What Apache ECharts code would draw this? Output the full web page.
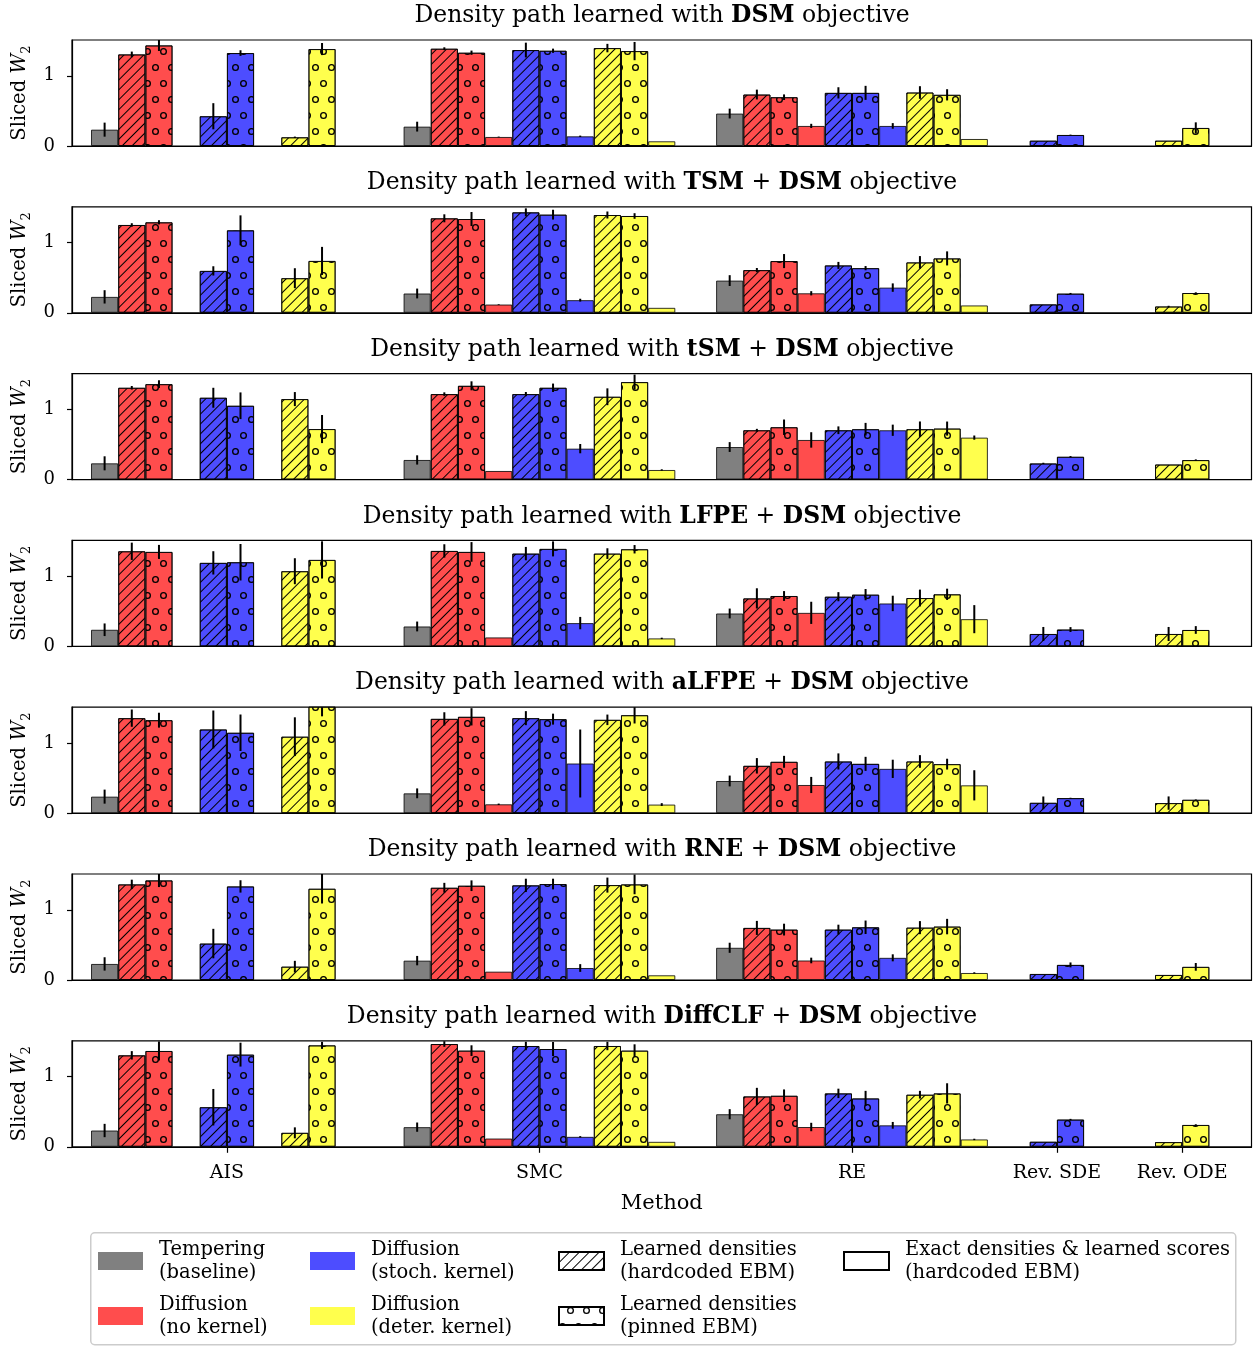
<!DOCTYPE html>
<html><head><meta charset="utf-8">
<script src="https://cdn.jsdelivr.net/npm/echarts@6/dist/echarts.min.js"></script>
<style>html,body{margin:0;padding:0;background:#fff}#c{width:1253px;height:1346px}</style>
</head><body><div id="c"></div>
<script>
// ---------------- data ----------------
const methods = ['AIS', 'SMC', 'RE', 'Rev. SDE', 'Rev. ODE'];
const objectives = [['DSM'], ['TSM', 'DSM'], ['tSM', 'DSM'], ['LFPE', 'DSM'], ['aLFPE', 'DSM'], ['RNE', 'DSM'], ['DiffCLF', 'DSM']];
const colorNames = ['Tempering\n(baseline)', 'Diffusion\n(no kernel)', 'Diffusion\n(stoch. kernel)', 'Diffusion\n(deter. kernel)'];
const patternNames = ['Learned densities\n(hardcoded EBM)', 'Learned densities\n(pinned EBM)', 'Exact densities & learned scores\n(hardcoded EBM)'];
const yTicks = [0, 1];
// slot order in each method group:
// [Tempering, noK-hard, noK-pinned, noK-exact, stoch-hard, stoch-pinned, stoch-exact, deter-hard, deter-pinned, deter-exact]
const N = null;
const meanDSM = [
  [0.233, 1.305, 1.433, N, 0.424, 1.324, N, 0.124, 1.381, N],
  [0.276, 1.386, 1.329, 0.129, 1.367, 1.357, 0.138, 1.395, 1.352, 0.067],
  [0.462, 0.733, 0.695, 0.286, 0.757, 0.757, 0.286, 0.762, 0.729, 0.100],
  [N, N, N, N, 0.076, 0.157, N, N, N, N],
  [N, N, N, N, N, N, N, 0.076, 0.257, N]];
const errDSM = [
  [0.10, 0.04, 0.08, N, 0.186, 0.04, N, 0.01, 0.086, N],
  [0.07, 0.02, 0.03, 0.005, 0.105, 0.03, 0.01, 0.06, 0.13, 0],
  [0.07, 0.07, 0.04, 0.03, 0.08, 0.10, 0.04, 0.09, 0.08, 0],
  [N, N, N, N, 0, 0.005, N, N, N, N],
  [N, N, N, N, N, N, N, 0, 0.08, N]];
const meanTSM = [
  [0.227, 1.251, 1.289, N, 0.597, 1.175, N, 0.493, 0.739, N],
  [0.275, 1.346, 1.336, 0.118, 1.431, 1.398, 0.180, 1.393, 1.379, 0.071],
  [0.459, 0.608, 0.737, 0.278, 0.675, 0.636, 0.359, 0.718, 0.775, 0.105],
  [N, N, N, N, 0.120, 0.273, N, N, N, N],
  [N, N, N, N, N, N, N, 0.090, 0.282, N]];
const errTSM = [
  [0.095, 0.025, 0.03, N, 0.066, 0.213, N, 0.142, 0.20, N],
  [0.07, 0.057, 0.10, 0.005, 0.057, 0.07, 0.02, 0.05, 0.04, 0],
  [0.077, 0.03, 0.10, 0.03, 0.05, 0.03, 0.06, 0.09, 0.10, 0],
  [N, N, N, N, 0, 0.01, N, N, N, N],
  [N, N, N, N, N, N, N, 0.01, 0.01, N]];
const meantSM = [
  [0.232, 1.308, 1.360, N, 1.166, 1.052, N, 1.147, 0.720, N],
  [0.280, 1.218, 1.336, 0.123, 1.218, 1.308, 0.441, 1.180, 1.389, 0.137],
  [0.464, 0.703, 0.746, 0.565, 0.703, 0.718, 0.703, 0.718, 0.727, 0.598],
  [N, N, N, N, 0.230, 0.325, N, N, N, N],
  [N, N, N, N, N, N, N, 0.215, 0.278, N]];
const errtSM = [
  [0.10, 0.025, 0.055, N, 0.142, 0.19, N, 0.10, 0.20, N],
  [0.066, 0.025, 0.064, 0, 0.03, 0.06, 0.066, 0.12, 0.107, 0.01],
  [0.07, 0.02, 0.11, 0.11, 0.055, 0.09, 0.08, 0.11, 0.10, 0.03],
  [N, N, N, N, 0.01, 0.01, N, N, N, N],
  [N, N, N, N, N, N, N, 0, 0.01, N]];
const meanLFPE = [
  [0.237, 1.355, 1.346, N, 1.190, 1.199, N, 1.071, 1.232, N],
  [0.284, 1.360, 1.346, 0.128, 1.322, 1.389, 0.332, 1.322, 1.384, 0.114],
  [0.469, 0.684, 0.718, 0.478, 0.708, 0.737, 0.612, 0.689, 0.742, 0.388],
  [N, N, N, N, 0.177, 0.240, N, N, N, N],
  [N, N, N, N, N, N, N, 0.177, 0.234, N]];
const errLFPE = [
  [0.09, 0.123, 0.10, N, 0.166, 0.26, N, 0.185, 0.265, N],
  [0.07, 0.095, 0.14, 0, 0.095, 0.107, 0.088, 0.076, 0.06, 0.01],
  [0.07, 0.144, 0.07, 0.158, 0.065, 0.08, 0.11, 0.12, 0.08, 0.20],
  [N, N, N, N, 0.10, 0.035, N, N, N, N],
  [N, N, N, N, N, N, N, 0.10, 0.055, N]];
const meanaLFPE = [
  [0.236, 1.354, 1.325, N, 1.193, 1.146, N, 1.090, 1.580, N],
  [0.283, 1.344, 1.373, 0.127, 1.354, 1.340, 0.708, 1.330, 1.396, 0.123],
  [0.459, 0.675, 0.732, 0.402, 0.737, 0.703, 0.632, 0.737, 0.699, 0.397],
  [N, N, N, N, 0.148, 0.215, N, N, N, N],
  [N, N, N, N, N, N, N, 0.144, 0.191, N]];
const erraLFPE = [
  [0.10, 0.123, 0.106, N, 0.27, 0.26, N, 0.276, 0.20, N],
  [0.07, 0.094, 0.123, 0.01, 0.10, 0.078, 0.484, 0.075, 0.118, 0.02],
  [0.077, 0.11, 0.085, 0.115, 0.115, 0.10, 0.13, 0.09, 0.077, 0.215],
  [N, N, N, N, 0.09, 0.005, N, N, N, N],
  [N, N, N, N, N, N, N, 0.095, 0.005, N]];
const meanRNE = [
  [0.229, 1.362, 1.419, N, 0.519, 1.333, N, 0.190, 1.300, N],
  [0.276, 1.314, 1.343, 0.119, 1.348, 1.367, 0.171, 1.352, 1.362, 0.067],
  [0.459, 0.742, 0.718, 0.278, 0.718, 0.751, 0.316, 0.746, 0.761, 0.100],
  [N, N, N, N, 0.086, 0.215, N, N, N, N],
  [N, N, N, N, N, N, N, 0.072, 0.187, N]];
const errRNE = [
  [0.095, 0.067, 0.095, N, 0.21, 0.088, N, 0.083, 0.21, N],
  [0.067, 0.07, 0.076, 0, 0.095, 0.076, 0.055, 0.107, 0.14, 0],
  [0.072, 0.10, 0.084, 0.04, 0.07, 0.096, 0.05, 0.093, 0.11, 0.01],
  [N, N, N, N, 0, 0.035, N, N, N, N],
  [N, N, N, N, N, N, N, 0, 0.055, N]];
const meanDiffCLF = [
  [0.232, 1.303, 1.365, N, 0.564, 1.313, N, 0.199, 1.445, N],
  [0.280, 1.464, 1.370, 0.118, 1.436, 1.393, 0.142, 1.436, 1.370, 0.071],
  [0.464, 0.718, 0.727, 0.282, 0.761, 0.689, 0.306, 0.742, 0.761, 0.105],
  [N, N, N, N, 0.072, 0.388, N, N, N, N],
  [N, N, N, N, N, N, N, 0.067, 0.311, N]];
const errDiffCLF = [
  [0.095, 0.06, 0.135, N, 0.26, 0.17, N, 0.078, 0.05, N],
  [0.066, 0.04, 0.076, 0, 0.06, 0.10, 0.01, 0.06, 0.09, 0],
  [0.072, 0.122, 0.09, 0.06, 0.067, 0.108, 0.048, 0.055, 0.144, 0.01],
  [N, N, N, N, 0, 0.01, N, N, N, N],
  [N, N, N, N, N, N, N, 0, 0.01, N]];
const allMeans = [meanDSM, meanTSM, meantSM, meanLFPE, meanaLFPE, meanRNE, meanDiffCLF];
const allErrs = [errDSM, errTSM, errtSM, errLFPE, erraLFPE, errRNE, errDiffCLF];

// ---------------- layout / style ----------------
const F = 'DejaVu Serif';
const gridLeft = 72, gridRight = 1.5, gridTop0 = 40, gridH = 106, panelStep = 166.8;
const xMin = -5.70, xMax = 37.70, yMax = 1.51;
const groupTick = [0, 11.5, 23.0, 30.54, 35.15];   // tick position of each method (slot units)
const groupAnchor = [5, 5, 5, 5, 8];              // slot boundary that sits on the tick
const slotColor = [0, 1, 1, 1, 2, 2, 2, 3, 3, 3];
const slotPattern = [2, 0, 1, 2, 0, 1, 2, 0, 1, 2]; // 0 hatch, 1 circles, 2 plain
const colors = ['#808080', '#ff4d4d', '#4d4dff', '#ffff4d'];
const hatchDecal = {symbol: 'rect', symbolSize: 1, dashArrayX: [1, 0], dashArrayY: [1, 6], rotation: -Math.PI / 4, color: '#000'};
const dotDecal = {symbol: 'path://M5,0A5,5,0,1,1,5,10A5,5,0,1,1,5,0ZM5,1.9A3.1,3.1,0,1,0,5,8.1A3.1,3.1,0,1,0,5,1.9Z',
  symbolSize: 1, dashArrayX: [[7, 9], [0, 8, 7, 1]], dashArrayY: [7, 9], color: '#000'};
const decals = [hatchDecal, dotDecal, null];
const slotOrder = [0, 3, 6, 9, 1, 2, 4, 5, 7, 8];

const grids = [], xAxes = [], yAxes = [], titles = [], series = [];
const black = {color: '#000', width: 1.2};

function titleText(obj) {
  let s = '{n|Density path learned with }';
  obj.forEach((o, i) => { if (i) s += '{n| + }'; s += '{b|' + o + '}'; });
  return s + '{n| objective}';
}

for (let k = 0; k < 7; k++) {
  const last = k === 6;
  grids.push({left: gridLeft, right: gridRight, top: gridTop0 + k * panelStep, height: gridH,
    show: true, borderColor: '#000', borderWidth: 1.2, backgroundColor: 'transparent'});
  xAxes.push({type: 'value', gridIndex: k, min: xMin, max: xMax,
    splitLine: {show: false},
    axisLine: {show: true, onZero: false, lineStyle: black},
    axisTick: {show: last, customValues: groupTick, length: 6, lineStyle: black},
    axisLabel: {show: last, customValues: groupTick, margin: 17, fontFamily: F, fontSize: 19, color: '#000',
      formatter: v => methods[groupTick.findIndex(t => Math.abs(t - v) < 1e-6)] || ''},
    name: last ? 'Method' : '', nameLocation: 'middle', nameGap: 46,
    nameTextStyle: {fontFamily: F, fontSize: 21, color: '#000'}});
  yAxes.push({type: 'value', gridIndex: k, min: 0, max: yMax,
    splitLine: {show: false},
    axisLine: {show: true, onZero: false, lineStyle: black},
    axisTick: {show: true, customValues: yTicks, length: 5, lineStyle: black},
    axisLabel: {customValues: yTicks, margin: 17, fontFamily: F, fontSize: 18, color: '#000'},
    name: '{a|Sliced }{b|W}{c|2}', nameLocation: 'middle', nameGap: 38,
    nameTextStyle: {rich: {
      a: {fontFamily: F, fontSize: 19.5, color: '#000', lineHeight: 26},
      b: {fontFamily: F, fontSize: 19.5, fontStyle: 'italic', color: '#000', lineHeight: 26},
      c: {fontFamily: F, fontSize: 13, color: '#000', lineHeight: 14, verticalAlign: 'bottom'}}}});
  titles.push({text: titleText(objectives[k]), left: 662, top: 3 + k * panelStep, textAlign: 'center', padding: 0,
    textStyle: {fontWeight: 'normal', rich: {
      n: {fontFamily: F, fontSize: 23.5, fontWeight: 'normal', color: '#000', lineHeight: 26},
      b: {fontFamily: F, fontSize: 23.5, fontWeight: 'bold', color: '#000', lineHeight: 26}}}});

  const means = allMeans[k], errs = allErrs[k];
  slotOrder.forEach(s => {
    const items = [];
    means.forEach((grp, g) => {
      const v = grp[s];
      if (v == null) return;
      items.push([groupTick[g] + (s - groupAnchor[g]) + 0.5, v]);
    });
    const style = {color: colors[slotColor[s]], borderColor: 'rgba(0,0,0,0.8)', borderWidth: 1};
    if (decals[slotPattern[s]]) style.decal = decals[slotPattern[s]];
    series.push({type: 'bar', name: colorNames[slotColor[s]], xAxisIndex: k, yAxisIndex: k,
      barWidth: '100%', barGap: '-100%', data: items, itemStyle: style,
      emphasis: {disabled: true}, silent: true});
  });
  const errItems = [];
  means.forEach((grp, g) => grp.forEach((v, s) => {
    const e = errs[g][s];
    if (v == null || !e) return;
    errItems.push([groupTick[g] + (s - groupAnchor[g]) + 0.5, v, e]);
  }));
  series.push({type: 'custom', name: 'error', xAxisIndex: k, yAxisIndex: k, z: 5, silent: true,
    encode: {x: 0, y: 1}, data: errItems,
    renderItem: (params, api) => {
      const x = api.value(0), m = api.value(1), e = api.value(2);
      const top = api.coord([x, m + e]), bot = api.coord([x, m - e]);
      const cs = params.coordSys;
      const y1 = Math.max(top[1], cs.y), y2 = Math.min(bot[1], cs.y + cs.height);
      if (y2 <= y1) return null;
      return {type: 'line', shape: {x1: top[0], y1: y1, x2: top[0], y2: y2},
        style: {stroke: '#000', lineWidth: 2}};
    }});
}
// legend-only series for the patterns (no data, same bar layout so they do not shift the bars)
patternNames.forEach((nm, i) => {
  const st = {color: '#fff', borderColor: '#000', borderWidth: 2};
  if (decals[i]) st.decal = decals[i];
  series.push({type: 'bar', name: nm, xAxisIndex: 0, yAxisIndex: 0, data: [],
    barWidth: '100%', barGap: '-100%', itemStyle: st});
});

const legendCommon = {orient: 'vertical', padding: 0, itemGap: 9, itemWidth: 45, itemHeight: 18, icon: 'rect',
  selectedMode: false, textStyle: {fontFamily: F, fontSize: 19.5, lineHeight: 23, color: '#000', padding: [0, 0, 0, 11]}};
const colorItem = n => ({name: n, itemStyle: {borderWidth: 0}});
const patItem = n => ({name: n, itemStyle: {borderColor: '#000', borderWidth: 2}});
const legends = [
  Object.assign({}, legendCommon, {left: 98, top: 1238, data: [colorItem(colorNames[0]), colorItem(colorNames[1])]}),
  Object.assign({}, legendCommon, {left: 310, top: 1238, data: [colorItem(colorNames[2]), colorItem(colorNames[3])]}),
  Object.assign({}, legendCommon, {left: 558, top: 1238, data: [patItem(patternNames[0]), patItem(patternNames[1])]}),
  Object.assign({}, legendCommon, {left: 843, top: 1238, data: [patItem(patternNames[2])]})
];

const chart = echarts.init(document.getElementById('c'), null, {renderer: 'canvas'});
chart.setOption({
  animation: false,
  backgroundColor: '#fff',
  title: titles,
  grid: grids,
  xAxis: xAxes,
  yAxis: yAxes,
  legend: legends,
  graphic: [{type: 'rect', left: 90, top: 1232, z: 0, silent: true,
    shape: {width: 1145, height: 112, r: 4}, style: {fill: '#fff', stroke: '#cccccc', lineWidth: 1.5}}],
  series: series
});
</script></body></html>
